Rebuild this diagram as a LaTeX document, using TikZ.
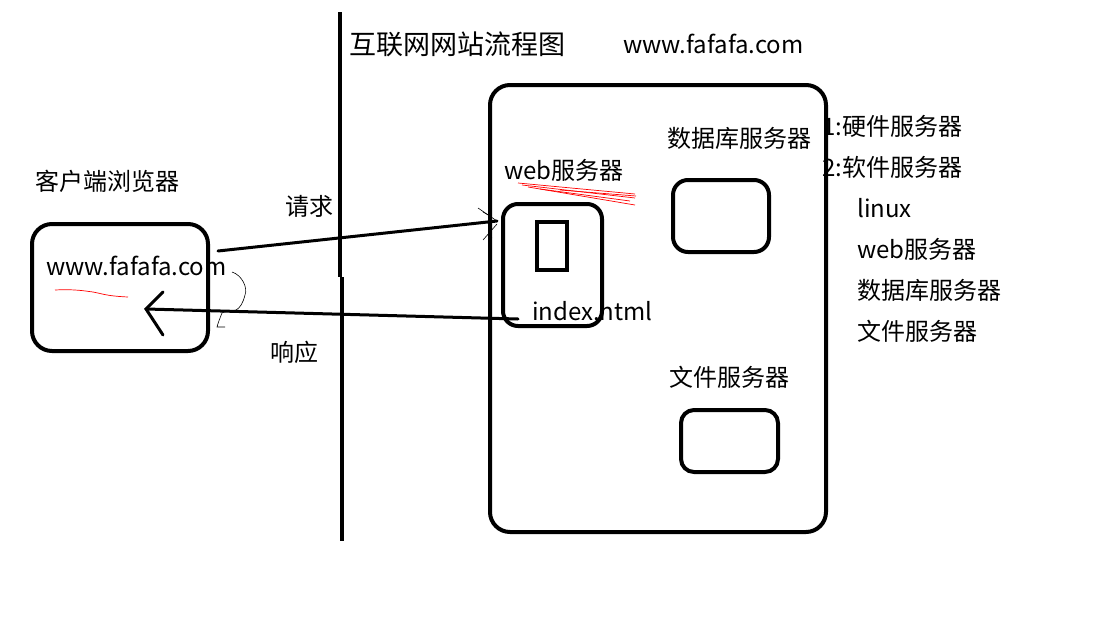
\documentclass[tikz,border=0pt]{standalone}
\usepackage{fontspec}
\newfontfamily\cjk{Noto Sans CJK SC}
\begin{document}
\begin{tikzpicture}[x=1pt,y=-1pt,
  box/.style={draw, line width=4pt, rounded corners=18pt, inner sep=0pt},
  lbl/.style={font=\cjk\fontsize{24}{28}\selectfont, inner sep=0pt, anchor=west},
  ttl/.style={font=\cjk\fontsize{27}{30}\selectfont, inner sep=0pt, anchor=west},
  stroke/.style={line width=3pt, line cap=round},
  scrib/.style={line width=0.6pt},
  redscrib/.style={red, line width=0.7pt}]
\useasboundingbox (0,0) rectangle (1100,629);
% divider
\coordinate (d1) at (340,12);
\coordinate (d2) at (340,277);
\coordinate (d3) at (342,277);
\coordinate (d4) at (342,541);
\draw[line width=4.5pt] (d1) -- (d2);
\draw[line width=4.5pt] (d3) -- (d4);
% titles
\node[ttl] (title) at (349,44) {互联网网站流程图};
\node[lbl] (url) at (623,44) {www.fafafa.com};
% site box
\node[box, rounded corners=20pt, minimum width=336pt, minimum height=447pt] (site) at (658,308.5) {};
\node[lbl] (dbl) at (667,138) {数据库服务器};
\node[lbl] (webl) at (504,170) {web服务器};
\node[box, rounded corners=15pt, minimum width=99pt, minimum height=122pt] (web) at (552.5,265) {};
\node[draw, line width=4pt, minimum width=30pt, minimum height=48pt, inner sep=0pt] (page) at (552,246) {};
\node[lbl] (idx) at (532,311) {index.html};
\node[box, rounded corners=15pt, minimum width=96pt, minimum height=72pt] (db) at (721,216) {};
\node[lbl] (filel) at (669,377) {文件服务器};
\node[box, rounded corners=13pt, minimum width=97pt, minimum height=62pt] (file) at (729.5,441) {};
% red scribbles under web label
\draw[redscrib] (518,183) -- (635,194);
\draw[redscrib] (522,185) -- (635,198);
\draw[redscrib] (528,187) -- (635,205);
\draw[redscrib] (540,189) -- (630,201);
\draw[redscrib] (560,190) -- (636,196);
% right list
\node[lbl] (l1) at (822,126) {1:硬件服务器};
\node[lbl] (l2) at (822,167) {2:软件服务器};
\node[lbl] (l3) at (857,208) {linux};
\node[lbl] (l4) at (857,249) {web服务器};
\node[lbl] (l5) at (857,290) {数据库服务器};
\node[lbl] (l6) at (857,331) {文件服务器};
% client
\node[lbl] (cl) at (35,181) {客户端浏览器};
\node[box, rounded corners=20pt, minimum width=176pt, minimum height=127pt] (client) at (120,287.5) {};
\node[lbl] (curl) at (46,266) {www.fafafa.com};
\draw[redscrib] (55,290) .. controls (75,289) and (85,291) .. (93,292) .. controls (100,293) and (105,296) .. (128,297);
% request
\coordinate (reqS) at (218,251);
\coordinate (reqE) at (497,221);
\draw[stroke] (reqS) -- (reqE);
\draw[scrib] (478,208) -- (497,221);
\draw[scrib] (483,212) -- (490,216);
\draw[scrib] (483,240) -- (497,224);
\draw[scrib] (488,235) -- (492,238);
\node[lbl] (req) at (285,206) {请求};
% response
\coordinate (resS) at (518,319);
\coordinate (resE) at (146,309);
\coordinate (resA) at (163,292);
\coordinate (resB) at (163,335);
\draw[stroke] (resS) -- (resE);
\draw[stroke] (resA) -- (resE) -- (resB);
\node[lbl] (res) at (270,352) {响应};
% thin squiggle
\draw[scrib] (232,272) .. controls (242,275) and (248,288) .. (245,295) .. controls (243,303) and (240,308) .. (236,310) .. controls (230,312) and (224,311) .. (222,313) .. controls (220,318) and (218,323) .. (217,327) -- (225,327);
\end{tikzpicture}
\end{document}
